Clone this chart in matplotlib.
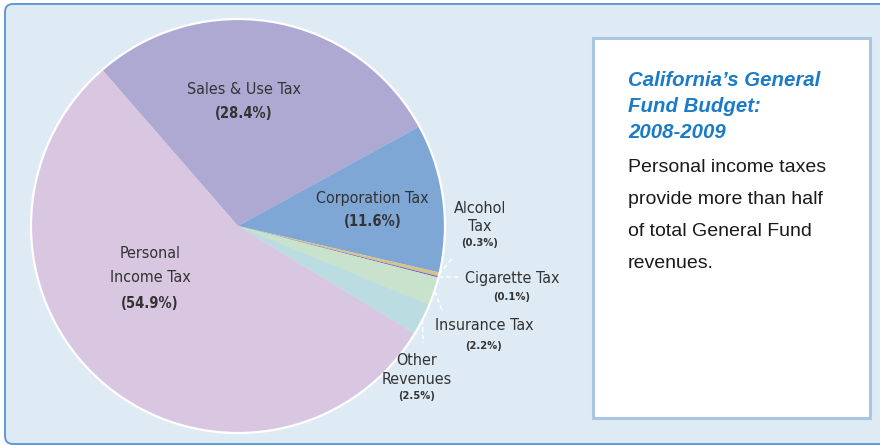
import numpy as np
import matplotlib
matplotlib.use('Agg')
import matplotlib.pyplot as plt
from matplotlib.patches import FancyBboxPatch, Rectangle, Circle

# data, in the order the slices are drawn (clockwise from the Sales/Personal edge)
categories = ['Sales & Use Tax', 'Corporation Tax', 'Alcohol Tax', 'Cigarette Tax',
              'Insurance Tax', 'Other Revenues', 'Personal Income Tax']
shares = [28.4, 11.6, 0.3, 0.1, 2.2, 2.5, 54.9]
label_names = ['Sales & Use Tax', 'Corporation Tax', 'Alcohol\nTax', 'Cigarette Tax',
               'Insurance Tax', 'Other\nRevenues', 'Personal\nIncome Tax']
colors = ['#aea9d2', '#7fa7d5', '#d8c28c', '#7467be', '#c9e2cb', '#bbdde1', '#d9c7e1']

title_lines = ["California\u2019s General", "Fund Budget:", "2008-2009"]
body_lines = ["Personal income taxes", "provide more than half",
              "of total General Fund", "revenues."]

W, H = 880, 446
def px(x, y):
    # picture pixels (y down) -> axes units (y up)
    return x, H - y

fig = plt.figure(figsize=(W / 100, H / 100), dpi=100)
fig.patch.set_facecolor('white')
ax = fig.add_axes([0, 0, 1, 1])

# background panel
panel = FancyBboxPatch(px(5, 444), 900, 440, boxstyle='round,pad=0,rounding_size=8',
                       facecolor='#deeaf4', edgecolor='#5b9bd5', lw=1.4, zorder=0)
ax.add_patch(panel)

# pie
cx, cy = px(238, 226)
R = 207
wedges, _ = ax.pie(shares, colors=colors, startangle=131, counterclock=False,
                   center=(cx, cy), radius=R, wedgeprops=dict(linewidth=0))
ax.add_patch(Circle((cx, cy), R, fill=False, edgecolor='white', lw=1.6, zorder=5))

# labels: name position, name line spacing, pct position, pct size
lab = dict(family='DejaVu Sans', stretch='condensed', color='#333333', zorder=6)
layout = {
    'Sales & Use Tax':     ((244, 89), 1.2, (244, 113), 10.5),
    'Corporation Tax':     ((372, 198), 1.2, (373, 222), 10.5),
    'Alcohol Tax':         ((480, 217.5), 1.2, (480, 243), 8),
    'Cigarette Tax':       ((512, 279), 1.2, (512, 297), 8),
    'Insurance Tax':       ((484, 326), 1.2, (484, 346), 8),
    'Other Revenues':      ((417, 370), 1.3, (417, 396), 8),
    'Personal Income Tax': ((150, 265.5), 1.8, (150, 303), 10.5),
}
for cat, name, share in zip(categories, label_names, shares):
    npos, ls, ppos, psize = layout[cat]
    ax.text(*px(*npos), name, ha='center', va='center', fontsize=11.5,
            linespacing=ls, **lab)
    ax.text(*px(*ppos), '(%.1f%%)' % share, ha='center', va='center', fontsize=psize,
            fontweight='bold', **lab)

# dashed leaders for the thin slices
leader_ends = {'Alcohol Tax': (453, 257), 'Cigarette Tax': (458, 277),
               'Insurance Tax': (443, 313), 'Other Revenues': (423, 343)}
for w, cat in zip(wedges, categories):
    if cat in leader_ends:
        mid = np.deg2rad((w.theta1 + w.theta2) / 2)
        x0, y0 = cx + R * np.cos(mid), cy + R * np.sin(mid)
        x1, y1 = px(*leader_ends[cat])
        ax.plot([x0, x1], [y0, y1], color='white', lw=1.1, ls=(0, (3, 2)), zorder=6)

# side note box
ax.add_patch(Rectangle(px(593, 418), 277, 380, facecolor='white',
                       edgecolor='#a9c6e3', lw=2.2, zorder=1))
for i, line in enumerate(title_lines):
    ax.text(*px(628, 80 + 26.5 * i), line, ha='left', va='center', fontsize=14.7,
            family='Liberation Sans', fontweight='bold', fontstyle='italic',
            color='#1b7bc6', zorder=6)
for i, line in enumerate(body_lines):
    ax.text(*px(628, 168 + 32 * i), line, ha='left', va='center', fontsize=14,
            family='Liberation Sans', color='#1a1a1a', zorder=6)

ax.set_xlim(0, W)
ax.set_ylim(0, H)
ax.set_aspect('equal')
ax.set_axis_off()

fig.savefig('out.png', dpi=100, facecolor='white')
